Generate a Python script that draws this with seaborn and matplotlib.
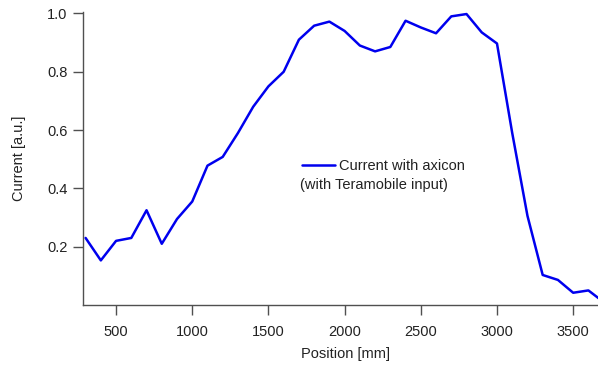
import matplotlib
matplotlib.use("Agg")
import matplotlib.pyplot as plt
import seaborn as sns
import pandas as pd

position = [300, 400, 500, 600, 700, 800, 900, 1000, 1100, 1200, 1300, 1400, 1500,
            1600, 1700, 1800, 1900, 2000, 2100, 2200, 2300, 2400, 2500, 2600, 2700,
            2800, 2900, 3000, 3100, 3200, 3300, 3400, 3500, 3600, 3700]
current = [0.23, 0.153, 0.22, 0.23, 0.325, 0.21, 0.295, 0.355, 0.478, 0.508, 0.59,
           0.68, 0.75, 0.80, 0.91, 0.958, 0.972, 0.94, 0.89, 0.87, 0.885, 0.975,
           0.952, 0.932, 0.99, 0.998, 0.935, 0.897, 0.59, 0.306, 0.103, 0.086,
           0.042, 0.05, 0.01]
series_label = "Current with axicon"
series_note = "(with Teramobile input)"
x_ticks = [500, 1000, 1500, 2000, 2500, 3000, 3500]
y_ticks = [0.2, 0.4, 0.6, 0.8, 1.0]

df = pd.DataFrame({"Position": position, "Current": current})

sns.set_style("ticks")
plt.rcParams["font.family"] = ["Liberation Sans", "DejaVu Sans"]

TXT = "#222222"
SP = "#505050"
FS = 10.5

fig = plt.figure(figsize=(5.98, 3.65), dpi=100)
ax = fig.add_axes([83 / 598, 60 / 365, 1 - 83 / 598, (305 - 12) / 365])

sns.lineplot(data=df, x="Position", y="Current", ax=ax, color="#0000ee",
             linewidth=1.8, label=series_label)

ax.set_xlim(283, 3663)
ax.set_ylim(0.0, 1.005)
ax.set_xticks(x_ticks)
ax.set_yticks(y_ticks)
ax.set_yticklabels([f"{v:.1f}" for v in y_ticks])
sns.despine(ax=ax)
for s in ["left", "bottom"]:
    ax.spines[s].set_color(SP)
    ax.spines[s].set_linewidth(1.0)
ax.tick_params(direction="out", length=7.5, width=1.0, color=SP,
               labelsize=FS, labelcolor=TXT)
ax.tick_params(axis="x", pad=7)
ax.tick_params(axis="y", pad=3.5)
ax.set_xlabel("Position [mm]", fontsize=FS, color=TXT)
ax.set_ylabel("Current [a.u.]", fontsize=FS, color=TXT)
ax.xaxis.set_label_coords(0.51, -0.143)
ax.yaxis.set_label_coords(-0.111, 0.5)

leg = ax.legend(loc="center left", bbox_to_anchor=(0.425, 0.474), frameon=False,
                fontsize=FS, handlelength=2.26, handletextpad=0.3, borderpad=0,
                borderaxespad=0)
for t in leg.get_texts():
    t.set_color(TXT)
ax.text(0.421, 0.41, series_note, transform=ax.transAxes, fontsize=FS,
        color=TXT, va="center", ha="left")

fig.savefig("out.png", dpi=100)
